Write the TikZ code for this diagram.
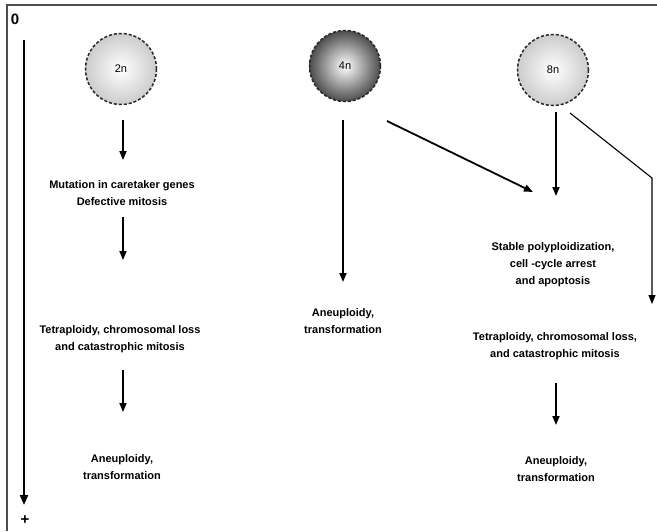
\documentclass[tikz,border=0pt]{standalone}
\usepackage{fontspec}
\setmainfont{Liberation Sans}
\usetikzlibrary{arrows.meta,shadings}
\begin{document}
\begin{tikzpicture}[x=1pt,y=-1pt,
  lbl/.style={align=center,font=\fontsize{11}{17}\selectfont\bfseries,inner sep=0pt},
  cell/.style={circle,minimum size=71pt,inner sep=0pt,draw=black!85,line width=1.5pt,densely dashed,font=\fontsize{11}{12}\selectfont},
  arr/.style={line width=1.8pt,-{Triangle[length=9pt,width=7pt]}},
  thinarr/.style={line width=1.1pt,-{Triangle[length=9pt,width=7pt]}}]
\useasboundingbox (0,0) rectangle (657,531);
% frame
\draw[black!70,line width=1.6pt] (657,5) -- (7,5) -- (7,531);
% timeline
\node[font=\fontsize{15}{16}\selectfont\bfseries] (zero) at (15,19) {0};
\node[font=\fontsize{15}{16}\selectfont\bfseries] (plus) at (25,520) {+};
\coordinate (tl0) at (24,40);
\coordinate (tl1) at (24,505);
\draw[line width=2.2pt,-{Triangle[length=10pt,width=8pt]}] (tl0) -- (tl1);
% cells
\node[cell,inner color=white,outer color=black!20] (c2) at (121,69) {2n};
\node[cell,inner color=white,outer color=black!70] (c4) at (345,66) {4n};
\node[cell,inner color=white,outer color=black!20] (c8) at (553,70) {8n};
% left column
\node[lbl] (m1) at (122,193) {Mutation in caretaker genes\\Defective mitosis};
\node[lbl] (t1) at (120,339) {Tetraploidy, chromosomal loss\\and catastrophic mitosis};
\node[lbl] (a1) at (122,467) {Aneuploidy,\\transformation};
\coordinate (p1) at (123,120); \coordinate (q1) at (123,160);
\coordinate (p2) at (123,217); \coordinate (q2) at (123,260);
\coordinate (p3) at (123,370); \coordinate (q3) at (123,412);
\draw[arr] (p1) -- (q1);
\draw[arr] (p2) -- (q2);
\draw[arr] (p3) -- (q3);
% middle column
\node[lbl] (a2) at (343,321) {Aneuploidy,\\transformation};
\coordinate (p4) at (343,120); \coordinate (q4) at (343,282);
\draw[arr] (p4) -- (q4);
\coordinate (p5) at (387,121); \coordinate (q5) at (533,192);
\draw[arr] (p5) -- (q5);
% right column
\node[lbl] (s3) at (553,265) {Stable polyploidization,\\cell -cycle arrest\\and apoptosis};
\node[lbl] (t3) at (555,346) {Tetraploidy, chromosomal loss,\\and catastrophic mitosis};
\node[lbl] (a3) at (556,469) {Aneuploidy,\\transformation};
\coordinate (p6) at (556,112); \coordinate (q6) at (556,196);
\draw[arr] (p6) -- (q6);
\coordinate (p7) at (570,113); \coordinate (k7) at (652,178); \coordinate (q7) at (652,304);
\draw[thinarr] (p7) -- (k7) -- (q7);
\coordinate (p8) at (556,383); \coordinate (q8) at (556,425);
\draw[arr] (p8) -- (q8);
\end{tikzpicture}
\end{document}
